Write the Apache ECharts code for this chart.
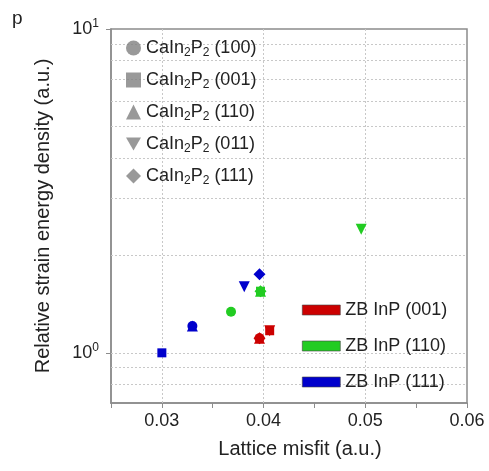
<!DOCTYPE html>
<html>
<head>
<meta charset="utf-8">
<script src="https://cdn.jsdelivr.net/npm/echarts@6/dist/echarts.min.js"></script>
<style>html,body{margin:0;padding:0;background:#fff}#c{width:489px;height:471px}</style>
</head>
<body>
<div id="c"></div>
<script>
// ---- data ----
const orientations = ['CaIn2P2 (100)', 'CaIn2P2 (001)', 'CaIn2P2 (110)', 'CaIn2P2 (011)', 'CaIn2P2 (111)'];
const substrates = ['ZB InP (001)', 'ZB InP (110)', 'ZB InP (111)'];
// misfit / strain per orientation (100),(001),(110),(011),(111)
const misfitInP001 = [0.0396, 0.0406, 0.0396, 0.0406, 0.0396];
const strainInP001 = [1.11, 1.17, 1.11, 1.17, 1.11];
const misfitInP110 = [0.0368, 0.0397, 0.0397, 0.0496, 0.0397];
const strainInP110 = [1.34, 1.55, 1.55, 2.41, 1.55];
const misfitInP111 = [0.0330, 0.0300, 0.0330, 0.0381, 0.0396];
const strainInP111 = [1.21, 1.00, 1.21, 1.60, 1.75];
const xGridValues = [0.03, 0.04, 0.05];
const yGridValues = [0.8, 0.9, 1, 2, 3, 4, 5, 6, 7, 8, 9];

const substrateColors = ['#cc0000', '#22cc22', '#0000cc'];
const downTri = 'path://M0,0L2,0L1,1.732Z';
const symbols = ['circle', 'rect', 'triangle', downTri, 'diamond'];
const symbolSizes = [10, 9, 11, 11, 12];
const misfits = [misfitInP001, misfitInP110, misfitInP111];
const strains = [strainInP001, strainInP110, strainInP111];

const FONT = 'Liberation Sans, Arial, sans-serif';
const series = [];
// gridlines
series.push({
  type: 'scatter', name: '_grid', data: [], silent: true, z: 1,
  markLine: {
    silent: true, symbol: ['none', 'none'], animation: false, z: 1,
    label: { show: false },
    lineStyle: { color: '#c8c8c8', type: [2, 2], width: 1 },
    data: yGridValues.map(v => ({ yAxis: v })).concat(xGridValues.map(v => ({ xAxis: v })))
  }
});
substrates.forEach((s, si) => {
  orientations.forEach((o, oi) => {
    series.push({
      type: 'scatter', name: s, z: 3,
      symbol: symbols[oi], symbolSize: symbolSizes[oi],
      itemStyle: { color: substrateColors[si], opacity: 1 },
      data: [[misfits[si][oi], strains[si][oi]]]
    });
  });
});
orientations.forEach((o, oi) => {
  series.push({ type: 'scatter', name: o, symbol: symbols[oi], itemStyle: { color: '#7f7f7f' }, data: [] });
});

const chart = echarts.init(document.getElementById('c'), null, { renderer: 'canvas' });
chart.setOption({
  animation: false,
  textStyle: { fontFamily: FONT },
  title: { text: 'p', left: 7, top: 4, textStyle: { fontSize: 19, fontWeight: 'normal', color: '#222', fontFamily: FONT } },
  grid: { left: 111, right: 22, top: 29, bottom: 68, show: true, borderColor: '#8c8c8c', borderWidth: 1.5, backgroundColor: 'transparent' },
  legend: [
    {
      data: orientations.map((o, i) => ({ name: o, icon: symbols[i] })),
      orient: 'vertical', left: 121, top: 34, itemWidth: 15, itemHeight: 15, itemGap: 12, z: 6,
      selectedMode: false,
      formatter: n => '{a|CaIn}{b|2}{a|P}{b|2}{a|' + n.slice(7) + '}',
      textStyle: {
        color: '#222', fontFamily: FONT,
        rich: {
          a: { fontSize: 18, lineHeight: 22, color: '#222', fontFamily: FONT },
          b: { fontSize: 12, lineHeight: 12, verticalAlign: 'bottom', color: '#222', fontFamily: FONT }
        }
      }
    },
    {
      data: substrates.map(s => ({ name: s, icon: 'rect', itemStyle: { borderColor: '#444', borderWidth: 0.6 } })),
      orient: 'vertical', left: 297, top: 294, itemWidth: 38, itemHeight: 10, itemGap: 14, z: 6,
      selectedMode: false,
      textStyle: { fontSize: 18, lineHeight: 22, color: '#222', fontFamily: FONT }
    }
  ],
  xAxis: {
    type: 'value', min: 0.025, max: 0.06, interval: 0.005,
    name: 'Lattice misfit (a.u.)', nameLocation: 'middle', nameGap: 36,
    nameTextStyle: { fontSize: 20, color: '#222', fontFamily: FONT, padding: [0, 0, 0, 22] },
    axisLine: { lineStyle: { color: '#8c8c8c', width: 1.5 } },
    axisTick: { length: 5, lineStyle: { color: '#8c8c8c' } },
    axisLabel: {
      fontSize: 18, color: '#222', margin: 9, fontFamily: FONT,
      formatter: v => (Math.round(v * 1000) % 10 === 0 ? v.toFixed(2) : '')
    },
    splitLine: { show: false }
  },
  yAxis: {
    type: 'log', logBase: 10, min: 0.7, max: 10,
    name: 'Relative strain energy density (a.u.)', nameLocation: 'middle', nameGap: 58,
    nameTextStyle: { fontSize: 20, color: '#222', fontFamily: FONT },
    axisLine: { lineStyle: { color: '#8c8c8c', width: 1.5 } },
    axisTick: { length: 5, lineStyle: { color: '#8c8c8c' } },
    axisLabel: {
      margin: 12, fontFamily: FONT, showMinLabel: false,
      formatter: v => {
        const e = Math.log10(v);
        if (Math.abs(e - Math.round(e)) < 1e-6) return '{a|10}{b|' + Math.round(e) + '}';
        return '';
      },
      rich: {
        a: { fontSize: 18, lineHeight: 22, color: '#222', fontFamily: FONT },
        b: { fontSize: 12, lineHeight: 12, verticalAlign: 'top', color: '#222', fontFamily: FONT }
      }
    },
    splitLine: { show: false }
  },
  series: series
});
</script>
</body>
</html>
